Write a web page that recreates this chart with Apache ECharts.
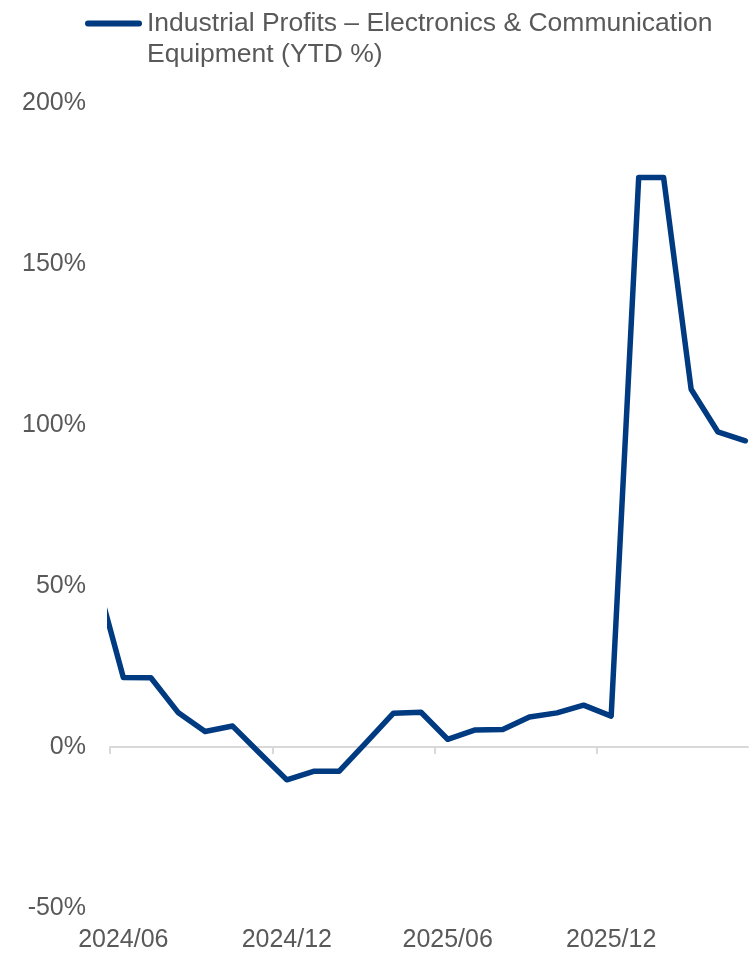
<!DOCTYPE html>
<html>
<head>
<meta charset="utf-8">
<script src="https://cdn.jsdelivr.net/npm/echarts@6/dist/echarts.min.js"></script>
<style>
  html, body { margin: 0; padding: 0; background: #ffffff; }
  #chart { width: 749px; height: 953px; }
</style>
</head>
<body>
<div id="chart"></div>
<script>
// Year-to-date profit growth, electronics & communication equipment (month-end readings;
// January repeats the combined Jan–Feb figure)
const dates = [
  '2024-05-31', '2024-06-30', '2024-07-31', '2024-08-31', '2024-09-30', '2024-10-31',
  '2024-11-30', '2024-12-31', '2025-01-31', '2025-02-28', '2025-03-31', '2025-04-30',
  '2025-05-31', '2025-06-30', '2025-07-31', '2025-08-31', '2025-09-30', '2025-10-31',
  '2025-11-30', '2025-12-31', '2026-01-31', '2026-02-28', '2026-03-31', '2026-04-30',
  '2026-05-31'
];
const profitYtd = [
  52.0, 21.6, 21.5, 10.6, 4.8, 6.5,
  -1.8, -10.2, -7.5, -7.5, 1.6, 10.5,
  10.8, 2.4, 5.3, 5.4, 9.3, 10.6,
  13.0, 9.6, 176.9, 176.9, 111.1, 97.9,
  95.1
];
const seriesName = 'Industrial Profits – Electronics & Communication\nEquipment (YTD %)';
// tick marks sit between months; labels sit on the month readings themselves
const xTicks = ['2024-06-15', '2024-12-15', '2025-06-15', '2025-12-15'];
const xLabels = ['2024-06-30', '2024-12-31', '2025-06-30', '2025-12-31'];
const xMin = '2024-06-15';
const xMax = '2026-06-03';
const yTicks = [-50, 0, 50, 100, 150, 200];

const textGrey = '#595959';
const lineBlue = '#003A80';
const fontFamily = 'Liberation Sans, Arial, sans-serif';

const chart = echarts.init(document.getElementById('chart'), null, { renderer: 'canvas' });

const ts = d => new Date(d + 'T00:00:00Z').getTime();
const pad2 = n => (n < 10 ? '0' : '') + n;
const tickValues = xTicks.map(ts);
const labelValues = xLabels.map(ts);

chart.setOption({
  animation: false,
  backgroundColor: '#ffffff',
  textStyle: { fontFamily: fontFamily },
  legend: {
    show: true,
    left: 80,
    top: -28,
    itemWidth: 57,
    itemHeight: 6,
    itemGap: 0,
    icon: 'path://M3,0 L54,0 A3,3 0 0 1 54,6 L3,6 A3,3 0 0 1 3,0 Z',
    data: [seriesName],
    // a blank leading line keeps the swatch level with the first text line
    formatter: name => '\n' + name,
    textStyle: {
      color: textGrey,
      fontSize: 26.5,
      lineHeight: 31,
      fontFamily: fontFamily
    }
  },
  grid: {
    left: 110,
    right: 1,
    top: 103,
    bottom: 45,
    containLabel: false
  },
  xAxis: [
    {
      // date scale carrying the line, with the zero baseline and its ticks
      type: 'value',
      min: ts(xMin),
      max: ts(xMax),
      axisLine: { show: true, onZero: true, lineStyle: { color: '#d9d9d9', width: 2 } },
      axisTick: {
        show: true,
        length: 7,
        lineStyle: { color: '#d9d9d9', width: 2 },
        customValues: tickValues
      },
      axisLabel: { show: false, customValues: tickValues },
      splitLine: { show: false }
    },
    {
      // same scale, carrying only the date labels along the bottom
      type: 'value',
      position: 'bottom',
      min: ts(xMin),
      max: ts(xMax),
      axisLine: { show: false, onZero: false },
      axisTick: { show: false, customValues: labelValues },
      splitLine: { show: false },
      axisLabel: {
        show: true,
        color: textGrey,
        fontSize: 25,
        margin: 20,
        customValues: labelValues,
        hideOverlap: false,
        formatter: function (v) {
          const d = new Date(v);
          return d.getUTCFullYear() + '/' + pad2(d.getUTCMonth() + 1);
        }
      }
    }
  ],
  yAxis: {
    type: 'value',
    min: yTicks[0],
    max: yTicks[yTicks.length - 1],
    interval: 50,
    axisLine: { show: false },
    axisTick: { show: false },
    splitLine: { show: false },
    axisLabel: {
      color: textGrey,
      fontSize: 25,
      margin: 24,
      formatter: '{value}%'
    }
  },
  series: [
    {
      name: seriesName,
      type: 'line',
      xAxisIndex: 0,
      data: dates.map((d, i) => [ts(d), profitYtd[i]]),
      showSymbol: false,
      clip: true,
      color: lineBlue,
      lineStyle: { color: lineBlue, width: 5.5, cap: 'round', join: 'round' }
    }
  ]
});
</script>
</body>
</html>
